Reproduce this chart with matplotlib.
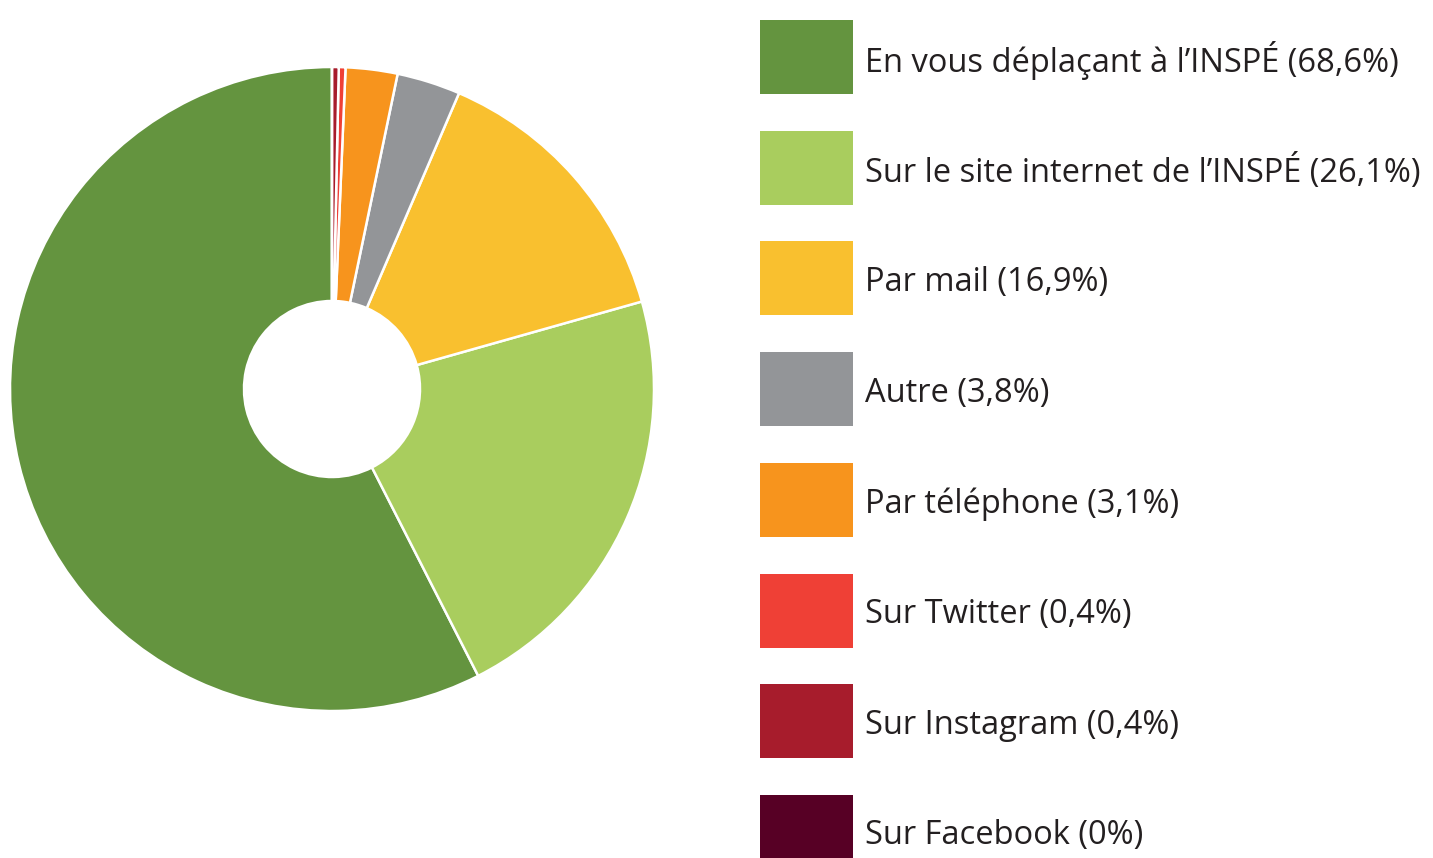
import matplotlib
matplotlib.use("Agg")
import matplotlib.pyplot as plt
from matplotlib.patches import Rectangle

# donnees
labels = ["En vous déplaçant à l’INSPÉ", "Sur le site internet de l’INSPÉ", "Par mail",
          "Autre", "Par téléphone", "Sur Twitter", "Sur Instagram", "Sur Facebook"]
values = [68.6, 26.1, 16.9, 3.8, 3.1, 0.4, 0.4, 0.0]
value_txt = ["68,6", "26,1", "16,9", "3,8", "3,1", "0,4", "0,4", "0"]
colors = ["#64943f", "#a9cd5e", "#f9c02f", "#939598", "#f7941d", "#ef4036", "#a71c2c", "#570025"]

W, H = 1433, 858
fig = plt.figure(figsize=(W / 100, H / 100), dpi=100)

# donut
cx, cy, r = 332, 389, 322
ax = fig.add_axes([(cx - r) / W, (H - cy - r) / H, 2 * r / W, 2 * r / H])
ax.pie(values, colors=colors, startangle=90, counterclock=True, radius=1,
       wedgeprops=dict(width=1 - 88 / 322, edgecolor="white", linewidth=1.8))
ax.set_xlim(-1, 1)
ax.set_ylim(-1, 1)
ax.set_aspect("equal")
ax.axis("off")

# legende faite a la main
fonts = ["Open Sans", "DejaVu Sans"]
for i, (lab, v, c) in enumerate(zip(labels, value_txt, colors)):
    yc = 57 + i * 110.7
    fig.patches.append(Rectangle((760 / W, 1 - (yc + 37) / H), 93 / W, 74 / H,
                                 transform=fig.transFigure, facecolor=c, edgecolor="none"))
    fig.text(865 / W, 1 - (yc + 4) / H, f"{lab} ({v}%)", fontsize=23.5, color="#231f20",
             va="center", ha="left", family=fonts)

fig.savefig("out.png", dpi=100)
